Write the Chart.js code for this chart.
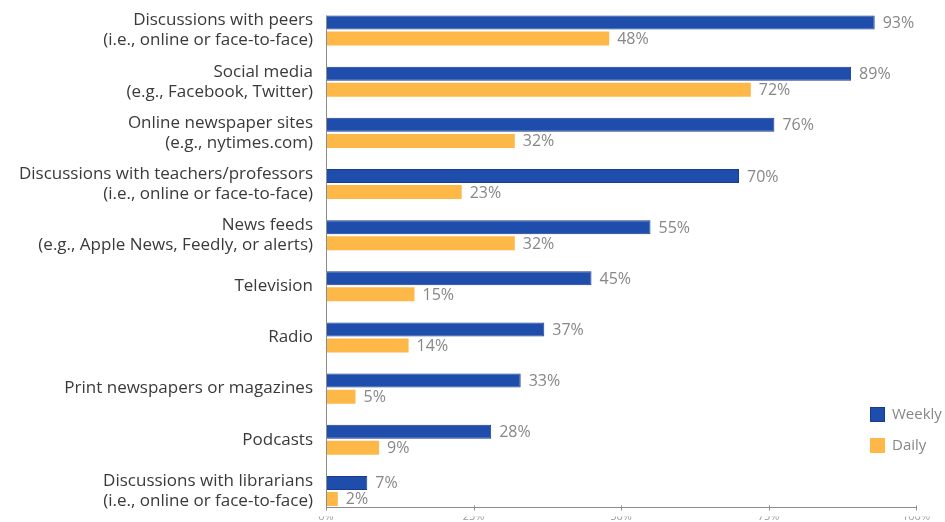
<!DOCTYPE html>
<html>
<head>
<meta charset="utf-8">
<script src="https://cdn.jsdelivr.net/npm/chart.js@4"></script>
<style>
  html, body { margin: 0; padding: 0; background: #fff; }
  #wrap { width: 945px; height: 522px; position: relative; }
</style>
</head>
<body>
<div id="wrap"><canvas id="c" width="945" height="522"></canvas></div>
<script>
// Sources of information and how often they are used
const categories = [
  ['Discussions with peers', '(i.e., online or face-to-face)'],
  ['Social media', '(e.g., Facebook, Twitter)'],
  ['Online newspaper sites', '(e.g., nytimes.com)'],
  ['Discussions with teachers/professors', '(i.e., online or face-to-face)'],
  ['News feeds', '(e.g., Apple News, Feedly, or alerts)'],
  ['Television'],
  ['Radio'],
  ['Print newspapers or magazines'],
  ['Podcasts'],
  ['Discussions with librarians', '(i.e., online or face-to-face)']
];
const weekly = [93, 89, 76, 70, 55, 45, 37, 33, 28, 7];
const daily  = [48, 72, 32, 23, 32, 15, 14, 5, 9, 2];
const seriesNames = ['Weekly', 'Daily'];
const tickValues = [0, 25, 50, 75, 100];

const BLUE = '#1f4dab';
const BLUE_EDGE = '#173c8e';
const GOLD = '#fdb847';
const FONT = "'Open Sans', sans-serif";

// Value labels at the end of each bar
const valueLabels = {
  id: 'valueLabels',
  afterDatasetsDraw(chart) {
    const ctx = chart.ctx;
    ctx.save();
    ctx.font = '16px ' + FONT;
    ctx.fillStyle = '#878787';
    ctx.textBaseline = 'middle';
    ctx.textAlign = 'left';
    chart.data.datasets.forEach((ds, di) => {
      const meta = chart.getDatasetMeta(di);
      meta.data.forEach((bar, i) => {
        ctx.fillText(ds.data[i] + '%', bar.x + 8, bar.y + 1);
      });
    });
    ctx.restore();
  }
};

// Axis lines with small tick marks
const axisLines = {
  id: 'axisLines',
  afterDatasetsDraw(chart) {
    const ctx = chart.ctx;
    const xs = chart.scales.x, ys = chart.scales.y;
    const n = categories.length;
    const band = (ys.getPixelForValue(n - 1) - ys.getPixelForValue(0)) / (n - 1);
    const yTop = Math.round(ys.getPixelForValue(0) - band * 0.31) + 0.5;
    const yBot = Math.round(ys.getPixelForValue(n - 1) + band * 0.31) + 0.5;
    const x0 = Math.round(xs.getPixelForValue(0)) + 0.5;
    const x1 = Math.round(xs.getPixelForValue(100)) + 0.5;
    ctx.save();
    ctx.strokeStyle = '#8c8c8c';
    ctx.lineWidth = 1;
    ctx.beginPath();
    ctx.moveTo(x0, yTop);
    ctx.lineTo(x0, yBot);
    ctx.lineTo(x1, yBot);
    tickValues.forEach(v => {
      const tx = Math.round(xs.getPixelForValue(v)) + 0.5;
      ctx.moveTo(tx, yBot - 2);
      ctx.lineTo(tx, yBot + 3);
    });
    ctx.stroke();
    ctx.restore();
  }
};

// Legend in the lower right corner
const sideLegend = {
  id: 'sideLegend',
  afterDraw(chart) {
    const ctx = chart.ctx;
    const colors = [[BLUE, BLUE_EDGE], [GOLD, GOLD]];
    ctx.save();
    ctx.font = '15px ' + FONT;
    ctx.textBaseline = 'middle';
    seriesNames.forEach((name, i) => {
      const y = 407 + i * 31;
      ctx.fillStyle = colors[i][0];
      ctx.fillRect(870, y, 15, 15);
      ctx.strokeStyle = colors[i][1];
      ctx.strokeRect(870.5, y + 0.5, 14, 14);
      ctx.fillStyle = '#878787';
      ctx.fillText(name, 892, y + 8);
    });
    ctx.restore();
  }
};

function noPadding(s) {
  s.paddingTop = 0; s.paddingBottom = 0; s.paddingLeft = 0; s.paddingRight = 0;
}

new Chart(document.getElementById('c'), {
  type: 'bar',
  data: {
    labels: categories,
    datasets: [
      { label: seriesNames[0], data: weekly, backgroundColor: BLUE, borderColor: BLUE_EDGE, borderWidth: 1,
        categoryPercentage: 0.626, barPercentage: 0.875 },
      { label: seriesNames[1], data: daily, backgroundColor: GOLD, borderWidth: 0,
        categoryPercentage: 0.626, barPercentage: 0.875 }
    ]
  },
  options: {
    indexAxis: 'y',
    responsive: false,
    animation: false,
    layout: { padding: { top: 5, right: 29, left: 0, bottom: 0 } },
    plugins: { legend: { display: false }, tooltip: { enabled: false } },
    scales: {
      x: {
        min: 0, max: 100,
        afterFit(s) { s.height = 5.5; noPadding(s); },
        afterBuildTicks(s) { s.ticks = tickValues.map(v => ({ value: v })); },
        grid: { display: false, drawTicks: false },
        border: { display: false },
        ticks: {
          padding: -6,
          color: '#9a9a9a',
          font: { family: FONT, size: 11 },
          maxRotation: 0,
          callback: v => v + '%'
        }
      },
      y: {
        afterFit(s) { s.width = 326; noPadding(s); },
        grid: { display: false, drawTicks: false },
        border: { display: false },
        ticks: {
          padding: 13,
          color: '#3a3a3a',
          font: { family: FONT, size: 17, lineHeight: 1.18 },
          autoSkip: false
        }
      }
    }
  },
  plugins: [valueLabels, axisLines, sideLegend]
});
</script>
</body>
</html>
